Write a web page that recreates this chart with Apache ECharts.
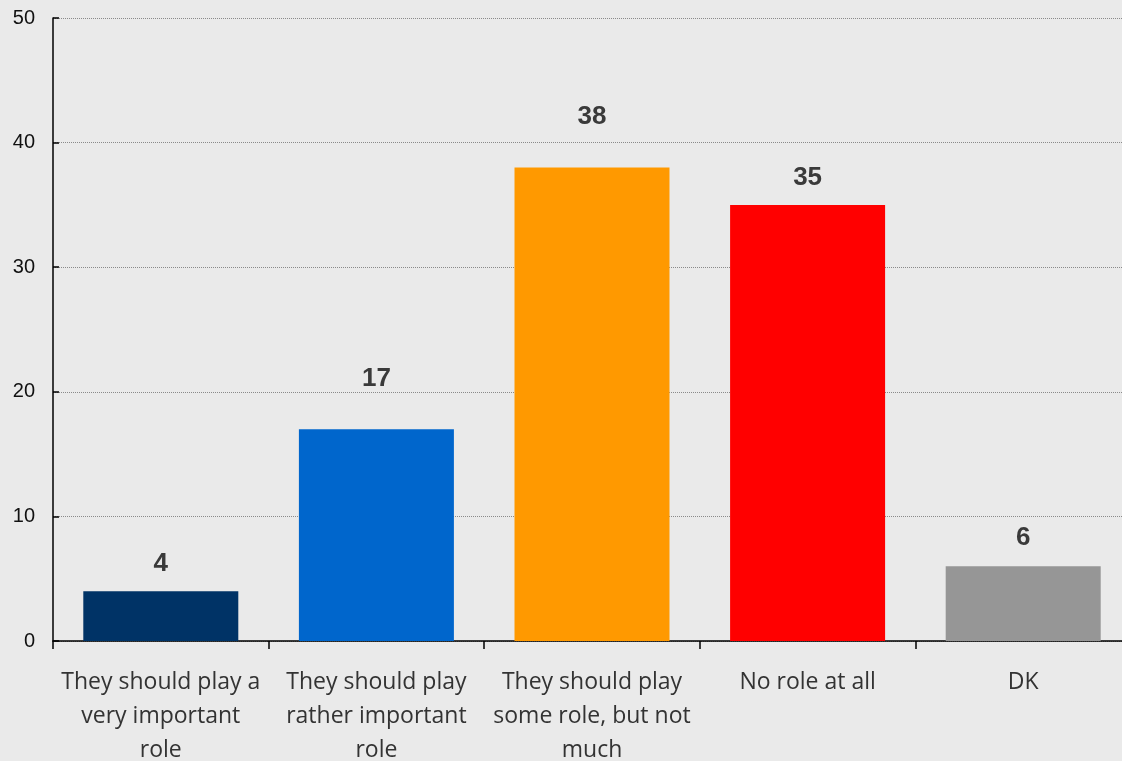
<!DOCTYPE html>
<html><head><meta charset="utf-8">
<script src="https://cdn.jsdelivr.net/npm/echarts@6/dist/echarts.min.js"></script>
<style>html,body{margin:0;padding:0;background:#eaeaea;}#c{width:1122px;height:761px;}</style>
</head><body><div id="c"></div>
<script>
const categories = ["They should play a\nvery important\nrole", "They should play\nrather important\nrole", "They should play\nsome role, but not\nmuch", "No role at all", "DK"];
const values = [4, 17, 38, 35, 6];
const yTicks = [0, 10, 20, 30, 40, 50];
const colors = ["#003366", "#0066cc", "#ff9900", "#ff0000", "#969696"];
const labelGaps = [14, 37, 38, 14, 15];

const chart = echarts.init(document.getElementById('c'), null, {renderer: 'canvas'});
chart.setOption({
  backgroundColor: '#eaeaea',
  animation: false,
  grid: {left: 53, top: 18, width: 1078, bottom: 120, containLabel: false, outerBoundsMode: 'none'},
  xAxis: {
    type: 'category', data: categories,
    axisLine: {lineStyle: {color: '#000', width: 1.5}},
    axisTick: {show: true, length: 8, lineStyle: {color: '#000', width: 1.5}, alignWithLabel: false},
    axisLabel: {fontFamily: 'Open Sans', fontSize: 23, color: '#333', lineHeight: 34, margin: 24, interval: 0}
  },
  yAxis: {
    type: 'value', min: yTicks[0], max: yTicks[yTicks.length-1], interval: 10,
    axisLine: {show: true, lineStyle: {color: '#000', width: 1.5}},
    axisTick: {show: true, inside: true, length: 6, lineStyle: {color: '#000', width: 1.5}},
    axisLabel: {fontFamily: 'Liberation Sans', fontSize: 20, color: '#111', margin: 18},
    splitLine: {show: true, lineStyle: {color: '#8a8a8a', type: [1, 1], width: 1}}
  },
  series: [{
    type: 'bar', barWidth: 155,
    data: values.map((v, i) => ({value: v, itemStyle: {color: colors[i]}, label: {distance: labelGaps[i]}})),
    label: {show: true, position: 'top', fontFamily: 'Liberation Sans', fontWeight: 'bold', fontSize: 26, color: '#3a3a3a'}
  }]
});
</script></body></html>
